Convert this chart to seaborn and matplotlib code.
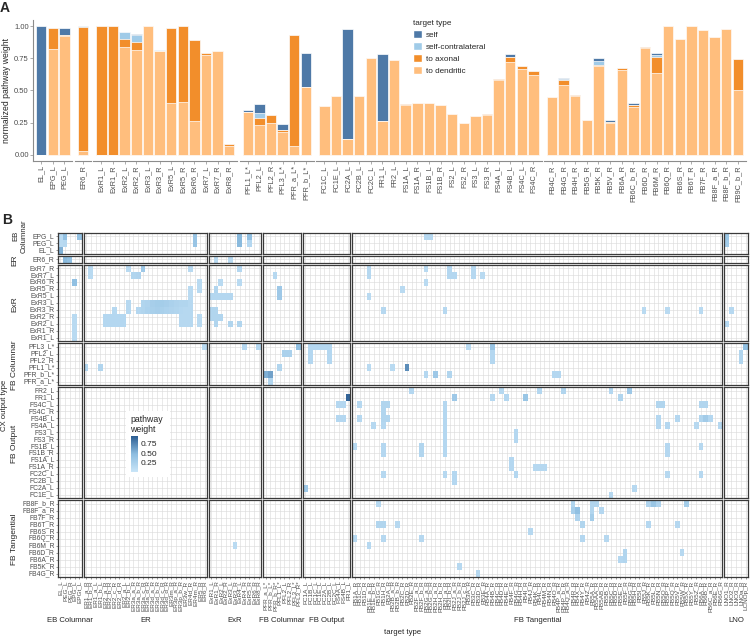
import matplotlib
matplotlib.use("Agg")
import matplotlib.pyplot as plt
import numpy as np
import pandas as pd
import seaborn as sns
from matplotlib.cm import ScalarMappable
from matplotlib.colors import LinearSegmentedColormap, Normalize
from matplotlib.patches import Patch, Rectangle

FIG_W, FIG_H = 750, 640

# ---------------- panel A: normalized pathway weight per CX output type
a_types = [
    "EL_L", "EPG_L", "PEG_L",
    "ER6_R",
    "ExR1_L", "ExR1_R", "ExR2_L", "ExR2_R", "ExR3_L", "ExR3_R", "ExR5_L", "ExR5_R",
    "ExR6_R", "ExR7_L", "ExR7_R", "ExR8_R",
    "PFL1_L*", "PFL2_L", "PFL2_R", "PFL3_L*", "PFR_a_L*", "PFR_b_L*",
    "FC1C_L", "FC1E_L", "FC2A_L", "FC2B_L", "FC2C_L", "FR1_L", "FR2_L", "FS1A_L", "FS1A_R",
    "FS1B_L", "FS1B_R", "FS2_L", "FS2_R", "FS3_L", "FS3_R", "FS4A_L", "FS4B_L", "FS4C_L", "FS4C_R",
    "FB4C_R", "FB4G_R", "FB4H_R", "FB5G_R", "FB5K_R", "FB5V_R", "FB6A_R", "FB6C_b_R", "FB6D_R",
    "FB6M_R", "FB6Q_R", "FB6S_R", "FB6T_R", "FB7F_R", "FB8F_a_R", "FB8F_b_R", "FB9C_b_R",
]
a_type_group = (["EB Columnar"] * 3 + ["ER"] * 1 + ["ExR"] * 12 + ["FB Columnar"] * 6
                + ["FB Output"] * 19 + ["FB Tangential"] * 17)
a_dendritic = [
    0.0, 0.82, 0.925,
    0.03,
    0.0, 0.0, 0.84, 0.815, 1.0, 0.81, 0.40, 0.41, 0.265, 0.78, 0.805, 0.068,
    0.332, 0.23, 0.245, 0.175, 0.068, 0.525,
    0.376, 0.454, 0.12, 0.455, 0.752, 0.264, 0.736, 0.386, 0.40, 0.40, 0.384, 0.316, 0.25,
    0.298, 0.308, 0.584, 0.726, 0.666, 0.621,
    0.449, 0.543, 0.455, 0.269, 0.692, 0.245, 0.663, 0.373, 0.833, 0.637, 1.0, 0.903, 1.0,
    0.972, 0.914, 0.976, 0.507,
]
a_axonal = [
    0.0, 0.17, 0.01,
    0.965,
    1.0, 1.0, 0.06, 0.065, 0.0, 0.0, 0.585, 0.59, 0.63, 0.015, 0.0, 0.018,
    0.003, 0.057, 0.063, 0.02, 0.862, 0.0,
    0.004, 0.0, 0.0, 0.0, 0.0, 0.0, 0.0, 0.008, 0.004, 0.0, 0.0, 0.0, 0.0,
    0.003, 0.005, 0.003, 0.036, 0.023, 0.032,
    0.0, 0.037, 0.01, 0.0, 0.008, 0.013, 0.016, 0.012, 0.003, 0.125, 0.0, 0.0, 0.0,
    0.0, 0.0, 0.0, 0.242,
]
a_self_contra = [
    0.0, 0.0, 0.0,
    0.005,
    0.0, 0.0, 0.055, 0.05, 0.0, 0.006, 0.0, 0.0, 0.0, 0.0, 0.006, 0.0,
    0.0, 0.034, 0.0, 0.0, 0.0, 0.0,
    0.0, 0.0, 0.0, 0.0, 0.0, 0.0, 0.0, 0.0, 0.0, 0.0, 0.0, 0.0, 0.0,
    0.0, 0.0, 0.0, 0.0, 0.0, 0.0,
    0.0, 0.008, 0.0, 0.0, 0.028, 0.0, 0.0, 0.005, 0.0, 0.016, 0.0, 0.0, 0.0,
    0.0, 0.0, 0.0, 0.0,
]
a_self = [
    1.0, 0.0, 0.05,
    0.0,
    0.0, 0.0, 0.0, 0.012, 0.0, 0.0, 0.0, 0.0, 0.0, 0.0, 0.0, 0.0,
    0.012, 0.073, 0.0, 0.042, 0.0, 0.266,
    0.0, 0.0, 0.86, 0.0, 0.0, 0.522, 0.0, 0.0, 0.0, 0.0, 0.0, 0.0, 0.0,
    0.0, 0.0, 0.0, 0.021, 0.0, 0.0,
    0.0, 0.01, 0.0, 0.0, 0.029, 0.011, 0.0, 0.01, 0.0, 0.013, 0.0, 0.0, 0.0,
    0.0, 0.0, 0.0, 0.0,
]
target_kinds = ["self", "self-contralateral", "to axonal", "to dendritic"]
kind_colors = ["#4E79A7", "#A0CBE8", "#F28E2B", "#FFBE7D"]

# ---------------- panel B: pathway weight matrix
row_groups = ["EB Columnar", "ER", "ExR", "FB Columnar", "FB Output", "FB Tangential"]
rows_eb = ["EPG_L", "PEG_L", "EL_L"]
rows_er = ["ER6_R"]
rows_exr = ["ExR7_R", "ExR7_L", "ExR6_R", "ExR5_R", "ExR5_L", "ExR3_L", "ExR3_R",
            "ExR2_R", "ExR2_L", "ExR1_R", "ExR1_L"]
rows_fbc = ["PFL3_L*", "PFL2_L", "PFL2_R", "PFL1_L*", "PFR_b_L*", "PFR_a_L*"]
rows_fbo = ["FR2_L", "FR1_L", "FS4C_L", "FS4C_R", "FS4B_L", "FS4A_L", "FS3_L", "FS3_R",
            "FS1B_L", "FS1B_R", "FS1A_L", "FS1A_R", "FC2C_L", "FC2B_L", "FC2A_L", "FC1E_L"]
rows_fbt = ["FB8F_b_R", "FB8F_a_R", "FB7F_R", "FB6T_R", "FB6S_R", "FB6Q_R", "FB6M_R",
            "FB6D_R", "FB6A_R", "FB5K_R", "FB4G_R"]

col_groups = ["EB Columnar", "ER", "ExR", "FB Columnar", "FB Output", "FB Tangential", "LNO"]
cols_eb = ["EL_L", "PEG_L", "PEG_R", "EPG_L", "EPGt_L"]
cols_er = ["ER1_a_R", "ER1_b_R", "ER1_a_L", "ER1_b_L", "ER2_a_R", "ER2_b_R", "ER2_c_R",
           "ER2_d_R", "ER2_a_L", "ER2_b_L", "ER3a_a_R", "ER3a_b_R", "ER3a_c_R", "ER3a_d_R",
           "ER3d_a_R", "ER3d_b_R", "ER3d_c_R", "ER3d_d_R", "ER3m_R", "ER3p_a_R", "ER3p_b_R",
           "ER3w_R", "ER4d_R", "ER4m_R", "ER5_R", "ER6_R"]
cols_exr = ["ExR1_L", "ExR1_R", "ExR2_L", "ExR2_R", "ExR3_L", "ExR3_R", "ExR4_L", "ExR4_R",
            "ExR5_R", "ExR6_R", "ExR8_R"]
cols_fbc = ["PFR_a_L*", "PFR_b_L*", "PFR_b_R*", "PFL1_L*", "PFL2_L", "PFL2_R", "PFL3_L*", "PFL3_R*"]
cols_fbo = ["FC1A_L", "FC1B_L", "FC1C_L", "FC1E_L", "FC2A_L", "FC2B_L", "FC2C_L", "FS4A_L",
            "FS4B_L", "FR1_L"]
cols_fbt = ["FB1A_R", "FB1C_R", "FB1D_R", "FB1E_a_R", "FB1E_b_R", "FB1G_R", "FB1H_R", "FB2A_R",
            "FB2B_a_R", "FB2B_b_R", "FB2C_R", "FB2D_R", "FB2E_R", "FB2F_a_R", "FB2F_b_R",
            "FB2G_a_R", "FB2G_b_R", "FB2H_a_R", "FB2H_b_R", "FB2I_a_R", "FB2I_b_R", "FB2J_a_R",
            "FB2J_b_R", "FB2J_c_R", "FB3A_R", "FB3C_R", "FB3D_R", "FB3E_R", "FB4A_R", "FB4B_R",
            "FB4C_R", "FB4D_R", "FB4E_R", "FB4F_R", "FB4G_R", "FB4H_R", "FB4I_R", "FB4J_R",
            "FB4K_R", "FB4L_R", "FB4M_R", "FB4N_R", "FB4O_R", "FB4P_a_R", "FB4P_b_R",
            "FB4Q_a_R", "FB4R_R", "FB4X_R", "FB4Y_R", "FB4Z_R", "FB5A_R", "FB5AA_R", "FB5AB_R",
            "FB5B_R", "FB5C_R", "FB5D_R", "FB5E_R", "FB5F_R", "FB5G_R", "FB5H_R", "FB5I_R",
            "FB5J_R", "FB5K_R", "FB5L_R", "FB5N_R", "FB5O_R", "FB5P_R", "FB5Q_R", "FB5V_R",
            "FB5W_R", "FB5X_R", "FB5Y_R", "FB5Z_R", "FB6A_R", "FB6B_R", "FB6C_a_R", "FB6E_R",
            "FB6G_R"]
cols_lno = ["LNO1_R", "LNO2_R", "LNO3_R", "LNOa_R", "LCNOp_R"]

# non-zero cells, output type -> [(target type, weight)]
cells_eb = {
    "EPG_L": [("EL_L", .14), ("PEG_L", .45), ("EPGt_L", .42), ("ER4m_R", .40), ("ExR4_L", .50),
              ("ExR5_R", .45), ("FB2G_a_R", .16), ("FB2G_b_R", .16), ("LNO1_R", .38)],
    "PEG_L": [("EL_L", .14), ("PEG_L", .16), ("ER4m_R", .40), ("ExR4_L", .50), ("ExR5_R", .18),
              ("LNO1_R", .32)],
    "EL_L": [("EL_L", .55)],
}
cells_er = {
    "ER6_R": [("PEG_L", .50), ("PEG_R", .45), ("ExR1_R", .14), ("ExR3_L", .14)],
}
cells_exr = {
    "ExR7_R": [("ER1_b_R", .14), ("ER2_b_L", .14), ("ER3a_c_R", .35), ("ER4d_R", .14),
               ("ExR4_L", .18), ("FB1E_a_R", .16), ("FB2G_a_R", .14), ("FB2I_b_R", .18),
               ("FB3C_R", .16)],
    "ExR7_L": [("ER1_b_R", .14), ("ER3a_a_R", .20), ("ER3a_b_R", .22), ("PFR_b_R*", .16),
               ("FB1E_a_R", .16), ("FB2I_b_R", .18), ("FB2J_a_R", .18), ("FB3C_R", .16),
               ("FB3E_R", .14)],
    "ExR6_R": [("EPG_L", .45), ("ER5_R", .14), ("ExR2_L", .14), ("ExR4_L", .14), ("FB2G_a_R", .14)],
    "ExR5_R": [("ER4d_R", .14), ("ER5_R", .14), ("ExR1_R", .20), ("PFL1_L*", .35), ("FB2C_R", .14)],
    "ExR5_L": [("ER4d_R", .14), ("ExR1_L", .18), ("ExR1_R", .18), ("ExR2_L", .18), ("ExR2_R", .18),
               ("ExR3_L", .18), ("PFL1_L*", .35), ("FB1E_a_R", .14)],
    "ExR3_L": [("ER2_b_L", .16), ("ER3a_c_R", .20), ("ER3a_d_R", .22), ("ER3d_a_R", .28),
               ("ER3d_b_R", .30), ("ER3d_c_R", .30), ("ER3d_d_R", .28), ("ER3m_R", .25),
               ("ER3p_a_R", .22), ("ER3p_b_R", .20), ("ER3w_R", .20), ("ER4d_R", .16)],
    "ExR3_R": [("ER2_c_R", .16), ("ER2_b_L", .16), ("ER3a_b_R", .18), ("ER3a_c_R", .20),
               ("ER3a_d_R", .24), ("ER3d_a_R", .26), ("ER3d_b_R", .28), ("ER3d_c_R", .26),
               ("ER3d_d_R", .24), ("ER3m_R", .22), ("ER3p_a_R", .20), ("ER3p_b_R", .18),
               ("ER3w_R", .16), ("ER4d_R", .16), ("ExR1_L", .20), ("ExR1_R", .20),
               ("FB1H_R", .16), ("FB2I_a_R", .16), ("FB5J_R", .14), ("FB5P_R", .14),
               ("FB6A_R", .14), ("LNO2_R", .16)],
    "ExR2_R": [("EPG_L", .14), ("ER2_a_R", .18), ("ER2_b_R", .18), ("ER2_c_R", .18), ("ER2_d_R", .18),
               ("ER2_a_L", .18), ("ER3p_b_R", .16), ("ER3w_R", .16), ("ER4d_R", .16), ("ER5_R", .14),
               ("ExR1_L", .20), ("ExR1_R", .20), ("ExR2_L", .20)],
    "ExR2_L": [("EPG_L", .14), ("ER2_a_R", .18), ("ER2_b_R", .18), ("ER2_c_R", .18), ("ER2_d_R", .18),
               ("ER2_a_L", .18), ("ER3p_b_R", .16), ("ER3w_R", .16), ("ER4d_R", .16), ("ER5_R", .14),
               ("ExR1_R", .20), ("ExR3_L", .20), ("ExR4_L", .20), ("LNO1_R", .18)],
    "ExR1_R": [("EPG_L", .14)],
    "ExR1_L": [("EPG_L", .14)],
}
cells_fbc = {
    "PFL3_L*": [("ER6_R", .14), ("ExR4_R", .18), ("ExR8_R", .18), ("PFL3_R*", .45), ("FC1B_L", .18),
                ("FC1C_L", .18), ("FC1E_L", .18), ("FC2A_L", .18), ("FC2B_L", .18), ("FB3A_R", .14),
                ("FB4B_R", .40), ("LCNOp_R", .45)],
    "PFL2_L": [("PFL2_L", .25), ("PFL2_R", .25), ("FC1B_L", .18), ("FC2B_L", .18), ("FB4B_R", .18),
               ("LNOa_R", .20)],
    "PFL2_R": [("FC1B_L", .18), ("FC2B_L", .18), ("FB4B_R", .18), ("LNOa_R", .20)],
    "PFL1_L*": [("ER1_a_R", .20), ("ER1_b_L", .20), ("PFL1_L*", .20), ("FB1E_a_R", .14),
                ("FB2B_a_R", .14), ("FB2D_R", .72)],
    "PFR_b_L*": [("PFR_a_L*", .55), ("PFR_b_L*", .62), ("FB2G_a_R", .18), ("FB2H_a_R", .35),
                 ("FB2I_b_R", .20), ("FB4O_R", .18), ("FB4P_a_R", .18)],
    "PFR_a_L*": [("PFR_b_L*", .20)],
}
cells_fbo = {
    "FR2_L": [("FB2E_R", .18), ("FB4D_R", .16), ("FB4L_R", .18), ("FB4P_b_R", .20), ("FB5C_R", .18),
              ("FB5G_R", .35)],
    "FR1_L": [("FR1_L", .92), ("FB2J_a_R", .35), ("FB4B_R", .16), ("FB4E_R", .18), ("FB4I_R", .38),
              ("FB5E_R", .20)],
    "FS4C_L": [("FS4A_L", .18), ("FS4B_L", .18), ("FB1C_R", .16), ("FB1H_R", .20), ("FB2A_R", .20),
               ("FB2I_a_R", .18), ("FB5N_R", .20), ("FB5O_R", .20), ("FB6A_R", .20), ("FB6B_R", .20)],
    "FS4C_R": [("FB1H_R", .20), ("FB2I_a_R", .18)],
    "FS4B_L": [("FS4A_L", .18), ("FS4B_L", .18), ("FB1C_R", .16), ("FB1H_R", .20), ("FB2A_R", .20),
               ("FB2I_a_R", .18), ("FB5N_R", .18), ("FB5V_R", .18), ("FB6A_R", .20), ("FB6B_R", .32),
               ("FB6C_a_R", .18)],
    "FS4A_L": [("FB1E_b_R", .16), ("FB1H_R", .18), ("FB2I_a_R", .18), ("FB5N_R", .18),
               ("FB5P_R", .18), ("FB5Z_R", .16), ("FB6G_R", .16)],
    "FS3_L": [("FB2I_a_R", .18), ("FB4G_R", .18)],
    "FS3_R": [("FB2I_a_R", .18), ("FB4G_R", .18)],
    "FS1B_L": [("FB1A_R", .16), ("FB1H_R", .18), ("FB2F_b_R", .20), ("FB2I_a_R", .18),
               ("FB5P_R", .18), ("FB6A_R", .16)],
    "FS1B_R": [("FB1H_R", .18), ("FB2F_b_R", .20), ("FB2I_a_R", .18), ("FB5P_R", .18)],
    "FS1A_L": [("FB4F_R", .18)],
    "FS1A_R": [("FB4F_R", .18), ("FB4K_R", .16), ("FB4L_R", .16), ("FB4M_R", .16)],
    "FC2C_L": [("FB1H_R", .16), ("FB2I_a_R", .16), ("FB2J_a_R", .18), ("FB4G_R", .18),
               ("FB5P_R", .16), ("FB6A_R", .16)],
    "FC2B_L": [("FB2J_a_R", .18)],
    "FC2A_L": [("FC1A_L", .35), ("FB5H_R", .16)],
    "FC1E_L": [("FB5C_R", .16)],
}
cells_fbt = {
    "FB8F_b_R": [("FB1G_R", .16), ("FB4R_R", .20), ("FB5A_R", .20), ("FB5AA_R", .20),
                 ("FB5K_R", .22), ("FB5L_R", .38), ("FB5N_R", .22), ("FB5X_R", .30)],
    "FB8F_a_R": [("FB4R_R", .28), ("FB4X_R", .45), ("FB5A_R", .20), ("FB5AB_R", .18)],
    "FB7F_R": [("FB4X_R", .22), ("FB5A_R", .30)],
    "FB6T_R": [("FB1G_R", .20), ("FB1H_R", .20), ("FB2B_b_R", .16), ("FB4Y_R", .20),
               ("FB5K_R", .18), ("FB5V_R", .18)],
    "FB6S_R": [("FB4J_R", .16)],
    "FB6Q_R": [("FB1A_R", .16), ("FB1H_R", .16), ("FB2F_b_R", .16), ("FB4Y_R", .18), ("FB5B_R", .16)],
    "FB6M_R": [("ExR3_R", .14), ("FB1E_a_R", .16)],
    "FB6D_R": [("FB5F_R", .20), ("FB5W_R", .16)],
    "FB6A_R": [("FB5E_R", .18), ("FB5F_R", .20)],
    "FB5K_R": [("FB2J_b_R", .16)],
    "FB4G_R": [("FB3D_R", .16)],
}
legend_ticks = [0.25, 0.50, 0.75]
PW_MIN, PW_MAX = 0.01, 0.96


def px_axes(fig, left, top, right, bottom):
    return fig.add_axes([left / FIG_W, 1 - bottom / FIG_H,
                         (right - left) / FIG_W, (bottom - top) / FIG_H])


def fig_text(fig, x, y, s, **kw):
    return fig.text(x / FIG_W, 1 - y / FIG_H, s, **kw)


sns.set_theme(style="white")
plt.rcParams["font.family"] = ["Liberation Sans", "DejaVu Sans"]
GREY_TXT = "#4d4d4d"

fig = plt.figure(figsize=(FIG_W / 100, FIG_H / 100), dpi=100)

# ======================= panel A
a_df = pd.DataFrame({
    "type": a_types, "group": a_type_group,
    "self": a_self, "self-contralateral": a_self_contra,
    "to axonal": a_axonal, "to dendritic": a_dendritic,
})
a_df["lvl_dend"] = a_df["to dendritic"]
a_df["lvl_ax"] = a_df["lvl_dend"] + a_df["to axonal"]
a_df["lvl_sc"] = a_df["lvl_ax"] + a_df["self-contralateral"]
a_df["lvl_self"] = a_df["lvl_sc"] + a_df["self"]
layers = [("lvl_self", kind_colors[0]), ("lvl_sc", kind_colors[1]),
          ("lvl_ax", kind_colors[2]), ("lvl_dend", kind_colors[3])]

a_group_order = list(dict.fromkeys(a_type_group))
a_left, a_right, a_gap = 33, 746, 2.3
a_top, a_bottom = 20, 161
n_per = [int((a_df["group"] == g).sum()) for g in a_group_order]
unit = (a_right - a_left - a_gap * (len(n_per) - 1)) / (sum(n_per) + 0.4 * len(n_per))
x_cur = a_left
for gi, g in enumerate(a_group_order):
    sub = a_df[a_df["group"] == g]
    n = len(sub)
    w = (n + 0.4) * unit
    ax = px_axes(fig, x_cur, a_top, x_cur + w, a_bottom)
    for col, colr in layers:
        sns.barplot(data=sub, x="type", y=col, order=list(sub["type"]), color=colr,
                    width=0.9, saturation=1, edgecolor="white", linewidth=0.5,
                    errorbar=None, ax=ax)
    ax.set_xlim(-0.7, n - 0.3)
    ax.set_ylim(-0.05, 1.05)
    ax.set_xlabel("")
    ax.set_ylabel("")
    for s in ["top", "right"]:
        ax.spines[s].set_visible(False)
    ax.spines["bottom"].set_color("#8c8c8c")
    ax.spines["bottom"].set_linewidth(0.8)
    ax.tick_params(axis="x", rotation=90, labelsize=5.3, labelcolor=GREY_TXT,
                   length=2, width=0.5, color="#8c8c8c", pad=1, bottom=True)
    if gi == 0:
        ax.spines["left"].set_color("#8c8c8c")
        ax.spines["left"].set_linewidth(0.8)
        ax.set_yticks([0, 0.25, 0.5, 0.75, 1.0])
        ax.set_yticklabels(["0.00", "0.25", "0.50", "0.75", "1.00"])
        ax.tick_params(axis="y", labelsize=5.5, labelcolor=GREY_TXT, length=2,
                       width=0.5, color="#8c8c8c", pad=1, left=True)
        ax.set_ylabel("normalized pathway weight", fontsize=6.2)
        ax.yaxis.set_label_coords((11 - x_cur) / w, 0.5)
    else:
        ax.spines["left"].set_visible(False)
        ax.set_yticks([])
    x_cur += w + a_gap

handles = [Patch(facecolor=c, edgecolor="white", label=k) for k, c in zip(target_kinds, kind_colors)]
leg = fig.legend(handles=handles, loc="upper left", bbox_to_anchor=(413 / FIG_W, 1 - 20 / FIG_H),
                 frameon=False, title="target type", fontsize=5.9, title_fontsize=5.9,
                 handlelength=1.15, handleheight=1.15, labelspacing=0.38, handletextpad=0.45,
                 borderaxespad=0, borderpad=0)
leg._legend_box.align = "left"

fig_text(fig, 5, 8, "A", fontsize=10, fontweight="bold", va="center", ha="center")
fig_text(fig, 7, 220, "B", fontsize=10, fontweight="bold", va="center", ha="center")

# ======================= panel B
all_cells = {**cells_eb, **cells_er, **cells_exr, **cells_fbc, **cells_fbo, **cells_fbt}
b_df = pd.DataFrame([(src, tgt, wgt) for src, lst in all_cells.items() for tgt, wgt in lst],
                    columns=["output", "target", "weight"])
b_mat = b_df.pivot_table(index="output", columns="target", values="weight", aggfunc="mean")

out_rows = [rows_eb, rows_er, rows_exr, rows_fbc, rows_fbo, rows_fbt]
tgt_cols = [cols_eb, cols_er, cols_exr, cols_fbc, cols_fbo, cols_fbt, cols_lno]

pw_cmap = LinearSegmentedColormap.from_list("pw", ["#c9e5f8", "#8dbde0", "#2b5c91"])

b_left, b_right, b_top, b_bottom, b_gap = 58, 748, 233, 577, 2.0
n_cols = sum(len(c) for c in tgt_cols)
n_rows = sum(len(r) for r in out_rows)
cw = (b_right - b_left - b_gap * (len(tgt_cols) - 1)) / n_cols
rh = (b_bottom - b_top - b_gap * (len(out_rows) - 1)) / n_rows

y_cur = b_top
for ri, (rg, rows) in enumerate(zip(row_groups, out_rows)):
    hgt = len(rows) * rh
    x_cur = b_left
    for ci, (cg, cols) in enumerate(zip(col_groups, tgt_cols)):
        wid = len(cols) * cw
        ax = px_axes(fig, x_cur, y_cur, x_cur + wid, y_cur + hgt)
        mat = b_mat.reindex(index=rows, columns=cols)
        is_left = ci == 0
        is_bottom = ri == len(out_rows) - 1
        sns.heatmap(mat, ax=ax, cmap=pw_cmap, vmin=PW_MIN, vmax=PW_MAX, cbar=False,
                    xticklabels=cols if is_bottom else False,
                    yticklabels=rows if is_left else False)
        for k in range(len(cols)):
            ax.axvline(k + 0.5, color="#dcdcdc", lw=0.45, zorder=0.5)
        for k in range(len(rows)):
            ax.axhline(k + 0.5, color="#dcdcdc", lw=0.45, zorder=0.5)
        for sp in ax.spines.values():
            sp.set_visible(True)
            sp.set_color("#3a3a3a")
            sp.set_linewidth(0.9)
        ax.set_xlabel("")
        ax.set_ylabel("")
        ax.tick_params(length=1.5, width=0.4, color=GREY_TXT, pad=1)
        if is_left:
            plt.setp(ax.get_yticklabels(), rotation=0, fontsize=4.9, color=GREY_TXT)
            ax.tick_params(axis="y", left=True)
        if is_bottom:
            plt.setp(ax.get_xticklabels(), rotation=90, fontsize=4.6, color=GREY_TXT)
            ax.tick_params(axis="x", bottom=True)
            fig_text(fig, x_cur + wid / 2, 621, cg, fontsize=5.6, ha="center", va="center")
        x_cur += wid + b_gap
    if rg == "EB Columnar":
        fig_text(fig, 20, 236, "EB\nColumnar", fontsize=5.6, rotation=90,
                 ha="center", va="center", linespacing=1.1)
    else:
        fig_text(fig, 15, y_cur + hgt / 2 + 1, rg, fontsize=6, rotation=90,
                 ha="center", va="center")
    y_cur += hgt + b_gap

fig_text(fig, 5, (b_top + b_bottom) / 2, "CX output type", fontsize=5.6, rotation=90,
         ha="center", va="center")
fig_text(fig, (b_left + b_right) / 2, 633, "target type", fontsize=5.6, ha="center", va="center")

# colour legend for panel B
fig.add_artist(Rectangle((126 / FIG_W, 1 - 477 / FIG_H), 44 / FIG_W, 66 / FIG_H,
                         transform=fig.transFigure, facecolor="white", edgecolor="none", zorder=5))
fig_text(fig, 130, 420, "pathway", fontsize=6.3, ha="left", va="center", zorder=6)
fig_text(fig, 130, 430, "weight", fontsize=6.3, ha="left", va="center", zorder=6)
cax = px_axes(fig, 131, 436, 138, 472)
cax.set_zorder(6)
cb = fig.colorbar(ScalarMappable(norm=Normalize(PW_MIN, PW_MAX), cmap=pw_cmap), cax=cax,
                  ticks=legend_ticks)
cb.outline.set_visible(False)
cb.ax.set_yticklabels([f"{t:.2f}" for t in legend_ticks])
cb.ax.tick_params(direction="in", length=2, width=0.5, color="white", labelsize=6, pad=2)

fig.savefig("out.png", dpi=100)
